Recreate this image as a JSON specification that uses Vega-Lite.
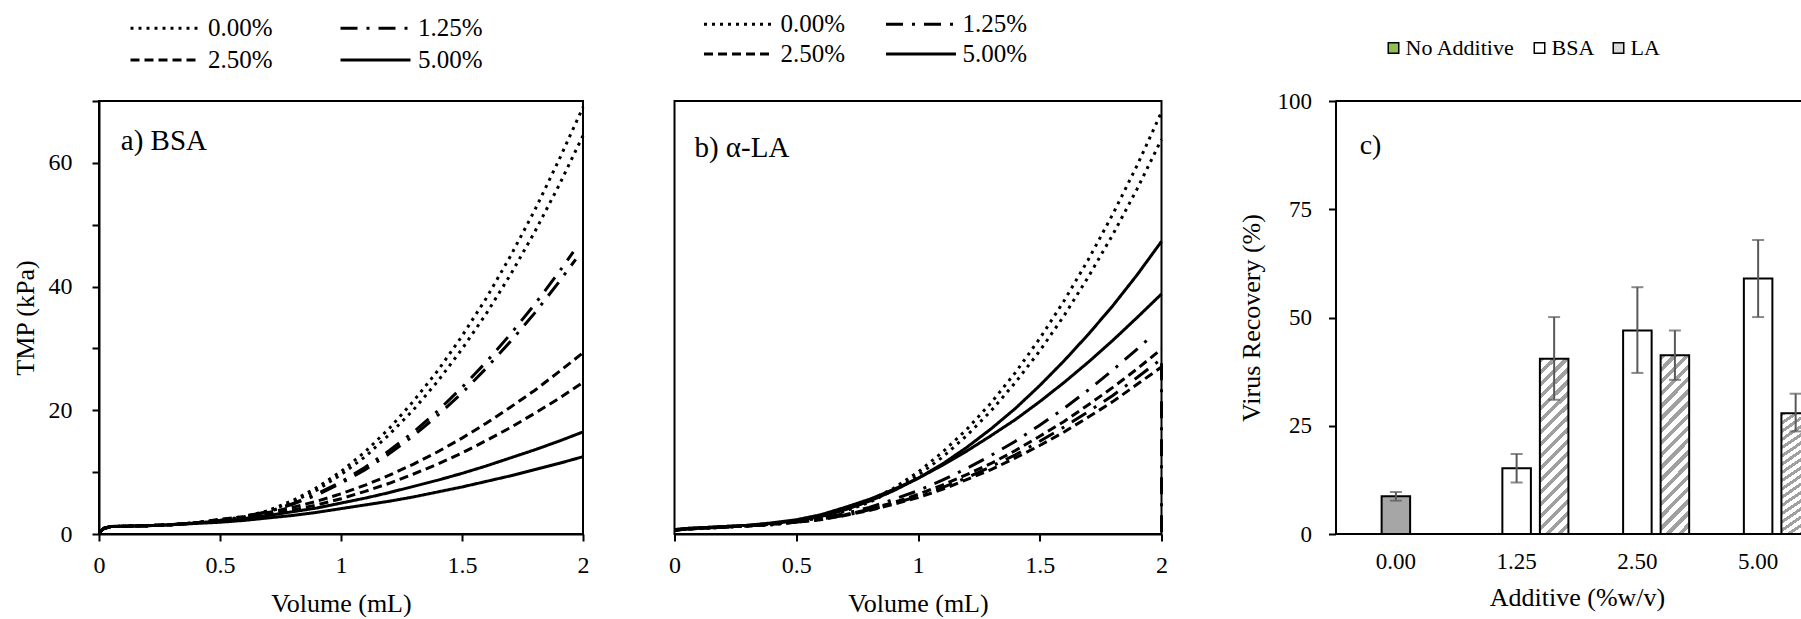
{
  "$schema": "https://vega.github.io/schema/vega-lite/v6.json",
  "padding": {"left": 11, "top": 10, "right": 0, "bottom": 0},
  "background": "white",
  "config": {
    "font": "Liberation Serif",
    "axis": {
      "domainColor": "black", "domainWidth": 2,
      "tickColor": "black", "tickWidth": 2, "tickSize": 7,
      "labelColor": "black", "titleColor": "black",
      "labelFont": "Liberation Serif", "titleFont": "Liberation Serif",
      "labelFontSize": 24, "titleFontSize": 26, "titleFontWeight": "normal",
      "grid": false
    },
    "legend": {"labelFont": "Liberation Serif", "labelColor": "black", "padding": 0},
    "text": {"font": "Liberation Serif"},
    "view": {"stroke": "black", "strokeWidth": 2}
  },
  "datasets": {
    "bsa": [
      {"c":"0.00%","r":1,"x":0,"y":0.2},{"c":"0.00%","r":1,"x":0.02,"y":0.9},{"c":"0.00%","r":1,"x":0.05,"y":1.2},{"c":"0.00%","r":1,"x":0.1,"y":1.25},{"c":"0.00%","r":1,"x":0.2,"y":1.35},{"c":"0.00%","r":1,"x":0.3,"y":1.5},{"c":"0.00%","r":1,"x":0.4,"y":1.8},
      {"c":"0.00%","r":1,"x":0.5,"y":2.2},{"c":"0.00%","r":1,"x":0.6,"y":2.8},{"c":"0.00%","r":1,"x":0.7,"y":3.8},{"c":"0.00%","r":1,"x":0.8,"y":5.4},{"c":"0.00%","r":1,"x":0.9,"y":7.5},{"c":"0.00%","r":1,"x":1.0,"y":10.1},{"c":"0.00%","r":1,"x":1.1,"y":13.3},{"c":"0.00%","r":1,"x":1.2,"y":17.1},{"c":"0.00%","r":1,"x":1.3,"y":21.5},{"c":"0.00%","r":1,"x":1.4,"y":26.4},{"c":"0.00%","r":1,"x":1.5,"y":32.0},{"c":"0.00%","r":1,"x":1.6,"y":38.1},{"c":"0.00%","r":1,"x":1.7,"y":44.9},{"c":"0.00%","r":1,"x":1.8,"y":52.3},{"c":"0.00%","r":1,"x":1.9,"y":60.4},{"c":"0.00%","r":1,"x":2.0,"y":69.0},
      {"c":"0.00%","r":2,"x":0,"y":0.2},{"c":"0.00%","r":2,"x":0.02,"y":0.9},{"c":"0.00%","r":2,"x":0.05,"y":1.2},{"c":"0.00%","r":2,"x":0.1,"y":1.25},{"c":"0.00%","r":2,"x":0.2,"y":1.35},{"c":"0.00%","r":2,"x":0.3,"y":1.5},{"c":"0.00%","r":2,"x":0.4,"y":1.8},
      {"c":"0.00%","r":2,"x":0.5,"y":2.2},{"c":"0.00%","r":2,"x":0.6,"y":2.7},{"c":"0.00%","r":2,"x":0.7,"y":3.7},{"c":"0.00%","r":2,"x":0.8,"y":5.2},{"c":"0.00%","r":2,"x":0.9,"y":7.1},{"c":"0.00%","r":2,"x":1.0,"y":9.6},{"c":"0.00%","r":2,"x":1.1,"y":12.5},{"c":"0.00%","r":2,"x":1.2,"y":16.1},{"c":"0.00%","r":2,"x":1.3,"y":20.1},{"c":"0.00%","r":2,"x":1.4,"y":24.7},{"c":"0.00%","r":2,"x":1.5,"y":29.9},{"c":"0.00%","r":2,"x":1.6,"y":35.6},{"c":"0.00%","r":2,"x":1.7,"y":41.9},{"c":"0.00%","r":2,"x":1.8,"y":48.8},{"c":"0.00%","r":2,"x":1.9,"y":56.3},{"c":"0.00%","r":2,"x":2.0,"y":64.4},
      {"c":"1.25%","r":1,"x":0,"y":0.2},{"c":"1.25%","r":1,"x":0.02,"y":0.9},{"c":"1.25%","r":1,"x":0.05,"y":1.2},{"c":"1.25%","r":1,"x":0.1,"y":1.25},{"c":"1.25%","r":1,"x":0.2,"y":1.35},{"c":"1.25%","r":1,"x":0.3,"y":1.5},{"c":"1.25%","r":1,"x":0.4,"y":1.8},
      {"c":"1.25%","r":1,"x":0.5,"y":2.2},{"c":"1.25%","r":1,"x":0.6,"y":2.9},{"c":"1.25%","r":1,"x":0.7,"y":3.6},{"c":"1.25%","r":1,"x":0.8,"y":4.9},{"c":"1.25%","r":1,"x":0.9,"y":6.5},{"c":"1.25%","r":1,"x":1.0,"y":8.4},{"c":"1.25%","r":1,"x":1.1,"y":10.8},{"c":"1.25%","r":1,"x":1.2,"y":13.5},{"c":"1.25%","r":1,"x":1.3,"y":16.5},{"c":"1.25%","r":1,"x":1.4,"y":19.9},{"c":"1.25%","r":1,"x":1.5,"y":23.7},{"c":"1.25%","r":1,"x":1.6,"y":27.8},{"c":"1.25%","r":1,"x":1.7,"y":32.3},{"c":"1.25%","r":1,"x":1.8,"y":37.1},{"c":"1.25%","r":1,"x":1.9,"y":42.3},{"c":"1.25%","r":1,"x":1.96,"y":45.6},
      {"c":"1.25%","r":2,"x":0,"y":0.2},{"c":"1.25%","r":2,"x":0.02,"y":0.9},{"c":"1.25%","r":2,"x":0.05,"y":1.2},{"c":"1.25%","r":2,"x":0.1,"y":1.25},{"c":"1.25%","r":2,"x":0.2,"y":1.35},{"c":"1.25%","r":2,"x":0.3,"y":1.5},{"c":"1.25%","r":2,"x":0.4,"y":1.8},
      {"c":"1.25%","r":2,"x":0.5,"y":2.2},{"c":"1.25%","r":2,"x":0.6,"y":2.7},{"c":"1.25%","r":2,"x":0.7,"y":3.6},{"c":"1.25%","r":2,"x":0.8,"y":4.8},{"c":"1.25%","r":2,"x":0.9,"y":6.3},{"c":"1.25%","r":2,"x":1.0,"y":8.2},{"c":"1.25%","r":2,"x":1.1,"y":10.4},{"c":"1.25%","r":2,"x":1.2,"y":13.0},{"c":"1.25%","r":2,"x":1.3,"y":15.9},{"c":"1.25%","r":2,"x":1.4,"y":19.2},{"c":"1.25%","r":2,"x":1.5,"y":22.8},{"c":"1.25%","r":2,"x":1.6,"y":26.8},{"c":"1.25%","r":2,"x":1.7,"y":31.1},{"c":"1.25%","r":2,"x":1.8,"y":35.7},{"c":"1.25%","r":2,"x":1.9,"y":40.7},{"c":"1.25%","r":2,"x":1.97,"y":44.4},
      {"c":"2.50%","r":1,"x":0,"y":0.2},{"c":"2.50%","r":1,"x":0.02,"y":0.9},{"c":"2.50%","r":1,"x":0.05,"y":1.2},{"c":"2.50%","r":1,"x":0.1,"y":1.25},{"c":"2.50%","r":1,"x":0.2,"y":1.35},{"c":"2.50%","r":1,"x":0.3,"y":1.5},{"c":"2.50%","r":1,"x":0.4,"y":1.8},
      {"c":"2.50%","r":1,"x":0.5,"y":2.4},{"c":"2.50%","r":1,"x":0.6,"y":2.8},{"c":"2.50%","r":1,"x":0.7,"y":3.5},{"c":"2.50%","r":1,"x":0.8,"y":4.3},{"c":"2.50%","r":1,"x":0.9,"y":5.3},{"c":"2.50%","r":1,"x":1.0,"y":6.5},{"c":"2.50%","r":1,"x":1.1,"y":7.9},{"c":"2.50%","r":1,"x":1.2,"y":9.5},{"c":"2.50%","r":1,"x":1.3,"y":11.3},{"c":"2.50%","r":1,"x":1.4,"y":13.3},{"c":"2.50%","r":1,"x":1.5,"y":15.5},{"c":"2.50%","r":1,"x":1.6,"y":17.9},{"c":"2.50%","r":1,"x":1.7,"y":20.5},{"c":"2.50%","r":1,"x":1.8,"y":23.2},{"c":"2.50%","r":1,"x":1.9,"y":26.2},{"c":"2.50%","r":1,"x":2.0,"y":29.3},
      {"c":"2.50%","r":2,"x":0,"y":0.2},{"c":"2.50%","r":2,"x":0.02,"y":0.9},{"c":"2.50%","r":2,"x":0.05,"y":1.2},{"c":"2.50%","r":2,"x":0.1,"y":1.25},{"c":"2.50%","r":2,"x":0.2,"y":1.35},{"c":"2.50%","r":2,"x":0.3,"y":1.5},{"c":"2.50%","r":2,"x":0.4,"y":1.8},
      {"c":"2.50%","r":2,"x":0.5,"y":2.3},{"c":"2.50%","r":2,"x":0.6,"y":2.7},{"c":"2.50%","r":2,"x":0.7,"y":3.2},{"c":"2.50%","r":2,"x":0.8,"y":3.9},{"c":"2.50%","r":2,"x":0.9,"y":4.7},{"c":"2.50%","r":2,"x":1.0,"y":5.7},{"c":"2.50%","r":2,"x":1.1,"y":6.9},{"c":"2.50%","r":2,"x":1.2,"y":8.2},{"c":"2.50%","r":2,"x":1.3,"y":9.7},{"c":"2.50%","r":2,"x":1.4,"y":11.3},{"c":"2.50%","r":2,"x":1.5,"y":13.1},{"c":"2.50%","r":2,"x":1.6,"y":15.1},{"c":"2.50%","r":2,"x":1.7,"y":17.2},{"c":"2.50%","r":2,"x":1.8,"y":19.5},{"c":"2.50%","r":2,"x":1.9,"y":21.9},{"c":"2.50%","r":2,"x":2.0,"y":24.5},
      {"c":"5.00%","r":1,"x":0,"y":0.2},{"c":"5.00%","r":1,"x":0.02,"y":0.9},{"c":"5.00%","r":1,"x":0.05,"y":1.2},{"c":"5.00%","r":1,"x":0.1,"y":1.25},{"c":"5.00%","r":1,"x":0.2,"y":1.35},{"c":"5.00%","r":1,"x":0.3,"y":1.5},{"c":"5.00%","r":1,"x":0.4,"y":1.8},
      {"c":"5.00%","r":1,"x":0.5,"y":2.1},{"c":"5.00%","r":1,"x":0.6,"y":2.5},{"c":"5.00%","r":1,"x":0.7,"y":3.0},{"c":"5.00%","r":1,"x":0.8,"y":3.6},{"c":"5.00%","r":1,"x":0.9,"y":4.2},{"c":"5.00%","r":1,"x":1.0,"y":5.0},{"c":"5.00%","r":1,"x":1.1,"y":5.8},{"c":"5.00%","r":1,"x":1.2,"y":6.7},{"c":"5.00%","r":1,"x":1.3,"y":7.7},{"c":"5.00%","r":1,"x":1.4,"y":8.7},{"c":"5.00%","r":1,"x":1.5,"y":9.8},{"c":"5.00%","r":1,"x":1.6,"y":11.0},{"c":"5.00%","r":1,"x":1.7,"y":12.3},{"c":"5.00%","r":1,"x":1.8,"y":13.6},{"c":"5.00%","r":1,"x":1.9,"y":15.0},{"c":"5.00%","r":1,"x":2.0,"y":16.5},
      {"c":"5.00%","r":2,"x":0,"y":0.2},{"c":"5.00%","r":2,"x":0.02,"y":0.9},{"c":"5.00%","r":2,"x":0.05,"y":1.2},{"c":"5.00%","r":2,"x":0.1,"y":1.25},{"c":"5.00%","r":2,"x":0.2,"y":1.35},{"c":"5.00%","r":2,"x":0.3,"y":1.5},{"c":"5.00%","r":2,"x":0.4,"y":1.7},
      {"c":"5.00%","r":2,"x":0.5,"y":1.9},{"c":"5.00%","r":2,"x":0.6,"y":2.2},{"c":"5.00%","r":2,"x":0.7,"y":2.6},{"c":"5.00%","r":2,"x":0.8,"y":3.0},{"c":"5.00%","r":2,"x":0.9,"y":3.5},{"c":"5.00%","r":2,"x":1.0,"y":4.1},{"c":"5.00%","r":2,"x":1.1,"y":4.7},{"c":"5.00%","r":2,"x":1.2,"y":5.3},{"c":"5.00%","r":2,"x":1.3,"y":6.0},{"c":"5.00%","r":2,"x":1.4,"y":6.8},{"c":"5.00%","r":2,"x":1.5,"y":7.6},{"c":"5.00%","r":2,"x":1.6,"y":8.5},{"c":"5.00%","r":2,"x":1.7,"y":9.4},{"c":"5.00%","r":2,"x":1.8,"y":10.4},{"c":"5.00%","r":2,"x":1.9,"y":11.4},{"c":"5.00%","r":2,"x":2.0,"y":12.5}
    ],
    "la": [
      {"c":"0.00%","r":1,"x":0,"y":0.6},{"c":"0.00%","r":1,"x":0.05,"y":0.8},{"c":"0.00%","r":1,"x":0.1,"y":0.9},{"c":"0.00%","r":1,"x":0.2,"y":1.1},{"c":"0.00%","r":1,"x":0.3,"y":1.3},{"c":"0.00%","r":1,"x":0.4,"y":1.5},
      {"c":"0.00%","r":1,"x":0.5,"y":2.0},{"c":"0.00%","r":1,"x":0.6,"y":2.7},{"c":"0.00%","r":1,"x":0.7,"y":3.8},{"c":"0.00%","r":1,"x":0.8,"y":5.4},{"c":"0.00%","r":1,"x":0.9,"y":7.4},{"c":"0.00%","r":1,"x":1.0,"y":10.0},{"c":"0.00%","r":1,"x":1.1,"y":13.2},{"c":"0.00%","r":1,"x":1.2,"y":16.9},{"c":"0.00%","r":1,"x":1.3,"y":21.2},{"c":"0.00%","r":1,"x":1.4,"y":26.1},{"c":"0.00%","r":1,"x":1.5,"y":31.6},{"c":"0.00%","r":1,"x":1.6,"y":37.7},{"c":"0.00%","r":1,"x":1.7,"y":44.4},{"c":"0.00%","r":1,"x":1.8,"y":51.7},{"c":"0.00%","r":1,"x":1.9,"y":59.6},{"c":"0.00%","r":1,"x":2.0,"y":68.2},
      {"c":"0.00%","r":2,"x":0,"y":0.6},{"c":"0.00%","r":2,"x":0.05,"y":0.8},{"c":"0.00%","r":2,"x":0.1,"y":0.9},{"c":"0.00%","r":2,"x":0.2,"y":1.1},{"c":"0.00%","r":2,"x":0.3,"y":1.3},{"c":"0.00%","r":2,"x":0.4,"y":1.5},
      {"c":"0.00%","r":2,"x":0.5,"y":2.0},{"c":"0.00%","r":2,"x":0.6,"y":2.6},{"c":"0.00%","r":2,"x":0.7,"y":3.7},{"c":"0.00%","r":2,"x":0.8,"y":5.1},{"c":"0.00%","r":2,"x":0.9,"y":7.1},{"c":"0.00%","r":2,"x":1.0,"y":9.5},{"c":"0.00%","r":2,"x":1.1,"y":12.4},{"c":"0.00%","r":2,"x":1.2,"y":15.9},{"c":"0.00%","r":2,"x":1.3,"y":19.9},{"c":"0.00%","r":2,"x":1.4,"y":24.5},{"c":"0.00%","r":2,"x":1.5,"y":29.6},{"c":"0.00%","r":2,"x":1.6,"y":35.3},{"c":"0.00%","r":2,"x":1.7,"y":41.6},{"c":"0.00%","r":2,"x":1.8,"y":48.4},{"c":"0.00%","r":2,"x":1.9,"y":55.8},{"c":"0.00%","r":2,"x":2.0,"y":63.8},
      {"c":"1.25%","r":1,"x":0,"y":0.6},{"c":"1.25%","r":1,"x":0.05,"y":0.8},{"c":"1.25%","r":1,"x":0.1,"y":0.9},{"c":"1.25%","r":1,"x":0.2,"y":1.1},{"c":"1.25%","r":1,"x":0.3,"y":1.3},{"c":"1.25%","r":1,"x":0.4,"y":1.6},
      {"c":"1.25%","r":1,"x":0.5,"y":2.0},{"c":"1.25%","r":1,"x":0.6,"y":2.5},{"c":"1.25%","r":1,"x":0.7,"y":3.3},{"c":"1.25%","r":1,"x":0.8,"y":4.3},{"c":"1.25%","r":1,"x":0.9,"y":5.6},{"c":"1.25%","r":1,"x":1.0,"y":7.0},{"c":"1.25%","r":1,"x":1.1,"y":8.7},{"c":"1.25%","r":1,"x":1.2,"y":10.6},{"c":"1.25%","r":1,"x":1.3,"y":12.7},{"c":"1.25%","r":1,"x":1.4,"y":15.0},{"c":"1.25%","r":1,"x":1.5,"y":17.6},{"c":"1.25%","r":1,"x":1.6,"y":20.3},{"c":"1.25%","r":1,"x":1.7,"y":23.3},{"c":"1.25%","r":1,"x":1.8,"y":26.5},{"c":"1.25%","r":1,"x":1.9,"y":29.9},{"c":"1.25%","r":1,"x":1.96,"y":32.0},
      {"c":"1.25%","r":2,"x":0,"y":0.6},{"c":"1.25%","r":2,"x":0.05,"y":0.8},{"c":"1.25%","r":2,"x":0.1,"y":0.9},{"c":"1.25%","r":2,"x":0.2,"y":1.1},{"c":"1.25%","r":2,"x":0.3,"y":1.3},{"c":"1.25%","r":2,"x":0.4,"y":1.6},
      {"c":"1.25%","r":2,"x":0.5,"y":1.9},{"c":"1.25%","r":2,"x":0.6,"y":2.4},{"c":"1.25%","r":2,"x":0.7,"y":3.0},{"c":"1.25%","r":2,"x":0.8,"y":3.9},{"c":"1.25%","r":2,"x":0.9,"y":4.9},{"c":"1.25%","r":2,"x":1.0,"y":6.1},{"c":"1.25%","r":2,"x":1.1,"y":7.5},{"c":"1.25%","r":2,"x":1.2,"y":9.1},{"c":"1.25%","r":2,"x":1.3,"y":10.9},{"c":"1.25%","r":2,"x":1.4,"y":12.8},{"c":"1.25%","r":2,"x":1.5,"y":15.0},{"c":"1.25%","r":2,"x":1.6,"y":17.3},{"c":"1.25%","r":2,"x":1.7,"y":19.8},{"c":"1.25%","r":2,"x":1.8,"y":22.4},{"c":"1.25%","r":2,"x":1.9,"y":25.3},{"c":"1.25%","r":2,"x":2.0,"y":28.3},{"c":"1.25%","r":2,"x":2.0,"y":0},
      {"c":"2.50%","r":1,"x":0,"y":0.6},{"c":"2.50%","r":1,"x":0.05,"y":0.8},{"c":"2.50%","r":1,"x":0.1,"y":0.9},{"c":"2.50%","r":1,"x":0.2,"y":1.1},{"c":"2.50%","r":1,"x":0.3,"y":1.3},{"c":"2.50%","r":1,"x":0.4,"y":1.6},
      {"c":"2.50%","r":1,"x":0.5,"y":1.9},{"c":"2.50%","r":1,"x":0.6,"y":2.4},{"c":"2.50%","r":1,"x":0.7,"y":3.1},{"c":"2.50%","r":1,"x":0.8,"y":4.0},{"c":"2.50%","r":1,"x":0.9,"y":5.1},{"c":"2.50%","r":1,"x":1.0,"y":6.4},{"c":"2.50%","r":1,"x":1.1,"y":7.9},{"c":"2.50%","r":1,"x":1.2,"y":9.6},{"c":"2.50%","r":1,"x":1.3,"y":11.4},{"c":"2.50%","r":1,"x":1.4,"y":13.5},{"c":"2.50%","r":1,"x":1.5,"y":15.8},{"c":"2.50%","r":1,"x":1.6,"y":18.2},{"c":"2.50%","r":1,"x":1.7,"y":20.9},{"c":"2.50%","r":1,"x":1.8,"y":23.7},{"c":"2.50%","r":1,"x":1.9,"y":26.7},{"c":"2.50%","r":1,"x":2.0,"y":29.9},
      {"c":"2.50%","r":2,"x":0,"y":0.6},{"c":"2.50%","r":2,"x":0.05,"y":0.8},{"c":"2.50%","r":2,"x":0.1,"y":0.9},{"c":"2.50%","r":2,"x":0.2,"y":1.1},{"c":"2.50%","r":2,"x":0.3,"y":1.3},{"c":"2.50%","r":2,"x":0.4,"y":1.6},
      {"c":"2.50%","r":2,"x":0.5,"y":1.9},{"c":"2.50%","r":2,"x":0.6,"y":2.3},{"c":"2.50%","r":2,"x":0.7,"y":3.0},{"c":"2.50%","r":2,"x":0.8,"y":3.8},{"c":"2.50%","r":2,"x":0.9,"y":4.8},{"c":"2.50%","r":2,"x":1.0,"y":5.9},{"c":"2.50%","r":2,"x":1.1,"y":7.2},{"c":"2.50%","r":2,"x":1.2,"y":8.8},{"c":"2.50%","r":2,"x":1.3,"y":10.4},{"c":"2.50%","r":2,"x":1.4,"y":12.3},{"c":"2.50%","r":2,"x":1.5,"y":14.3},{"c":"2.50%","r":2,"x":1.6,"y":16.5},{"c":"2.50%","r":2,"x":1.7,"y":18.9},{"c":"2.50%","r":2,"x":1.8,"y":21.4},{"c":"2.50%","r":2,"x":1.9,"y":24.2},{"c":"2.50%","r":2,"x":2.0,"y":27.0},
      {"c":"5.00%","r":1,"x":0,"y":0.7},{"c":"5.00%","r":1,"x":0.05,"y":0.9},{"c":"5.00%","r":1,"x":0.1,"y":1.0},{"c":"5.00%","r":1,"x":0.2,"y":1.2},{"c":"5.00%","r":1,"x":0.3,"y":1.4},{"c":"5.00%","r":1,"x":0.4,"y":1.7},
      {"c":"5.00%","r":1,"x":0.5,"y":2.1},{"c":"5.00%","r":1,"x":0.6,"y":2.8},{"c":"5.00%","r":1,"x":0.7,"y":3.9},{"c":"5.00%","r":1,"x":0.8,"y":5.3},{"c":"5.00%","r":1,"x":0.9,"y":7.0},{"c":"5.00%","r":1,"x":1.0,"y":9.0},{"c":"5.00%","r":1,"x":1.1,"y":11.3},{"c":"5.00%","r":1,"x":1.2,"y":14.0},{"c":"5.00%","r":1,"x":1.3,"y":17.0},{"c":"5.00%","r":1,"x":1.4,"y":20.3},{"c":"5.00%","r":1,"x":1.5,"y":24.0},{"c":"5.00%","r":1,"x":1.6,"y":28.0},{"c":"5.00%","r":1,"x":1.7,"y":32.3},{"c":"5.00%","r":1,"x":1.8,"y":36.9},{"c":"5.00%","r":1,"x":1.9,"y":41.9},{"c":"5.00%","r":1,"x":2.0,"y":47.3},
      {"c":"5.00%","r":2,"x":0,"y":0.7},{"c":"5.00%","r":2,"x":0.05,"y":0.9},{"c":"5.00%","r":2,"x":0.1,"y":1.0},{"c":"5.00%","r":2,"x":0.2,"y":1.2},{"c":"5.00%","r":2,"x":0.3,"y":1.4},{"c":"5.00%","r":2,"x":0.4,"y":1.8},
      {"c":"5.00%","r":2,"x":0.5,"y":2.3},{"c":"5.00%","r":2,"x":0.6,"y":3.1},{"c":"5.00%","r":2,"x":0.7,"y":4.3},{"c":"5.00%","r":2,"x":0.8,"y":5.6},{"c":"5.00%","r":2,"x":0.9,"y":7.2},{"c":"5.00%","r":2,"x":1.0,"y":9.0},{"c":"5.00%","r":2,"x":1.1,"y":11.1},{"c":"5.00%","r":2,"x":1.2,"y":13.4},{"c":"5.00%","r":2,"x":1.3,"y":15.9},{"c":"5.00%","r":2,"x":1.4,"y":18.5},{"c":"5.00%","r":2,"x":1.5,"y":21.4},{"c":"5.00%","r":2,"x":1.6,"y":24.5},{"c":"5.00%","r":2,"x":1.7,"y":27.8},{"c":"5.00%","r":2,"x":1.8,"y":31.3},{"c":"5.00%","r":2,"x":1.9,"y":35.0},{"c":"5.00%","r":2,"x":2.0,"y":38.8}
    ],
    "rec": [
      {"additive":"0.00","series":"No Additive","value":8.7,"lo":7.7,"hi":9.7},
      {"additive":"1.25","series":"BSA","value":15.2,"lo":11.9,"hi":18.5},
      {"additive":"1.25","series":"LA","value":40.5,"lo":31.0,"hi":50.1},
      {"additive":"2.50","series":"BSA","value":47.0,"lo":37.2,"hi":57.0},
      {"additive":"2.50","series":"LA","value":41.3,"lo":35.6,"hi":47.0},
      {"additive":"5.00","series":"BSA","value":59.0,"lo":50.1,"hi":67.9},
      {"additive":"5.00","series":"LA","value":27.9,"lo":23.7,"hi":32.4}
    ]
  },
  "spacing": 68.5,
  "resolve": {
    "scale": {"x": "independent", "y": "independent", "strokeDash": "independent", "fill": "independent"},
    "legend": {"strokeDash": "independent", "fill": "independent"}
  },
  "hconcat": [
    {
      "spacing": 77.5,
      "resolve": {
        "scale": {"x": "independent", "y": "independent", "strokeDash": "independent"},
        "legend": {"strokeDash": "independent"}
      },
      "hconcat": [
        {
          "width": 484,
          "height": 433,
          "layer": [
            {
              "data": {"name": "bsa"},
              "mark": {"type": "line", "strokeWidth": 3, "color": "black"},
              "encoding": {
                "x": {"field": "x", "type": "quantitative",
                      "scale": {"domain": [0, 2], "nice": false},
                      "axis": {"values": [0, 0.5, 1, 1.5, 2], "format": "~g", "labelFlush": false, "title": "Volume (mL)", "labelPadding": 12, "titlePadding": 13}},
                "y": {"field": "y", "type": "quantitative",
                      "scale": {"domain": [0, 70], "nice": false},
                      "axis": {"values": [0, 10, 20, 30, 40, 50, 60, 70], "labelExpr": "datum.value % 20 === 0 ? datum.label : ''", "labelFlush": false, "title": "TMP (kPa)", "labelPadding": 20, "titlePadding": 10}},
                "strokeDash": {"field": "c", "type": "nominal",
                      "scale": {"domain": ["0.00%", "1.25%", "2.50%", "5.00%"], "range": [[3, 5], [17, 9, 3, 9], [9, 5], [1, 0]]},
                      "legend": {"title": null, "orient": "none", "legendX": 30, "legendY": -85.5, "direction": "horizontal", "columns": 2,
                                 "symbolType": "stroke", "symbolSize": 4900, "symbolStrokeWidth": 3, "symbolStrokeColor": "black", "clipHeight": 25,
                                 "labelFont": "Liberation Serif", "labelFontSize": 25, "labelOffset": 6, "columnPadding": 66, "rowPadding": 6}},
                "detail": {"field": "r"}
              }
            },
            {
              "data": {"values": [{"label": "a) BSA", "x": 0.09, "y": 62}]},
              "mark": {"type": "text", "align": "left", "baseline": "alphabetic", "fontSize": 29, "font": "Liberation Serif", "color": "black"},
              "encoding": {
                "x": {"field": "x", "type": "quantitative"},
                "y": {"field": "y", "type": "quantitative"},
                "text": {"field": "label"}
              }
            }
          ]
        },
        {
          "width": 487,
          "height": 433,
          "layer": [
            {
              "data": {"name": "la"},
              "mark": {"type": "line", "strokeWidth": 3, "color": "black"},
              "encoding": {
                "x": {"field": "x", "type": "quantitative",
                      "scale": {"domain": [0, 2], "nice": false},
                      "axis": {"values": [0, 0.5, 1, 1.5, 2], "format": "~g", "labelFlush": false, "title": "Volume (mL)", "labelPadding": 12, "titlePadding": 13}},
                "y": {"field": "y", "type": "quantitative",
                      "scale": {"domain": [0, 70], "nice": false},
                      "axis": null},
                "strokeDash": {"field": "c", "type": "nominal",
                      "scale": {"domain": ["0.00%", "1.25%", "2.50%", "5.00%"], "range": [[3, 5], [17, 9, 3, 9], [9, 5], [1, 0]]},
                      "legend": {"title": null, "orient": "none", "legendX": 28, "legendY": -89.5, "direction": "horizontal", "columns": 2,
                                 "symbolType": "stroke", "symbolSize": 4900, "symbolStrokeWidth": 3, "symbolStrokeColor": "black", "clipHeight": 25,
                                 "labelFont": "Liberation Serif", "labelFontSize": 25, "labelOffset": 5, "columnPadding": 39, "rowPadding": 4}},
                "detail": {"field": "r"}
              }
            },
            {
              "data": {"values": [{"label": "b) α-LA", "x": 0.082, "y": 61}]},
              "mark": {"type": "text", "align": "left", "baseline": "alphabetic", "fontSize": 29, "font": "Liberation Serif", "color": "black"},
              "encoding": {
                "x": {"field": "x", "type": "quantitative"},
                "y": {"field": "y", "type": "quantitative"},
                "text": {"field": "label"}
              }
            }
          ]
        }
      ]
    },
    {
      "width": 469,
      "height": 433,
      "view": {"stroke": null},
      "data": {"name": "rec"},
      "encoding": {
        "x": {"field": "additive", "type": "nominal",
              "scale": {"domain": ["0.00", "1.25", "2.50", "5.00"], "range": [0, 483], "paddingInner": 0, "paddingOuter": 0},
              "axis": {"title": "Additive (%w/v)", "labelAngle": 0, "domain": false, "ticks": false, "labelPadding": 16, "labelFontSize": 23, "titlePadding": 11.5}}
      },
      "layer": [
        {
          "data": {"values": [{"edge": 100}, {"edge": 0}]},
          "mark": {"type": "rule", "color": "black", "strokeWidth": 2},
          "encoding": {
            "x": null,
            "y": {"field": "edge", "type": "quantitative", "scale": {"domain": [0, 100], "nice": false}}
          }
        },
        {
          "transform": [{"filter": "datum.series !== 'No Additive'"}],
          "mark": {"type": "bar", "stroke": "black", "strokeWidth": 2, "clip": true},
          "encoding": {
            "xOffset": {"field": "series", "type": "nominal",
                        "scale": {"domain": ["No Additive", "BSA", "LA"], "paddingInner": 0.24, "paddingOuter": 0.229}},
            "y": {"field": "value", "type": "quantitative",
                  "scale": {"domain": [0, 100], "nice": false},
                  "axis": {"values": [0, 25, 50, 75, 100], "title": "Virus Recovery (%)", "labelFontSize": 23, "labelPadding": 17, "titlePadding": 13}},
            "fill": {"field": "series", "type": "nominal",
                     "scale": {"domain": ["No Additive", "BSA", "LA"], "range": ["#92c050", "#ffffff", "#d9d9d9"]},
                     "condition": [
                       {"test": "datum.series === 'No Additive'", "value": "#a6a6a6"},
                       {"test": "datum.series === 'LA'", "value": {
                         "gradient": "linear", "x1": 0, "y1": 0, "x2": 0.1822, "y2": 1.1317,
                         "stops": [
                           {"offset": 0, "color": "#a0a0a0"}, {"offset": 0.0265, "color": "#a0a0a0"}, {"offset": 0.0265, "color": "#ffffff"}, {"offset": 0.0588, "color": "#ffffff"},
                           {"offset": 0.0588, "color": "#a0a0a0"}, {"offset": 0.0853, "color": "#a0a0a0"}, {"offset": 0.0853, "color": "#ffffff"}, {"offset": 0.1176, "color": "#ffffff"},
                           {"offset": 0.1176, "color": "#a0a0a0"}, {"offset": 0.1441, "color": "#a0a0a0"}, {"offset": 0.1441, "color": "#ffffff"}, {"offset": 0.1765, "color": "#ffffff"},
                           {"offset": 0.1765, "color": "#a0a0a0"}, {"offset": 0.2029, "color": "#a0a0a0"}, {"offset": 0.2029, "color": "#ffffff"}, {"offset": 0.2353, "color": "#ffffff"},
                           {"offset": 0.2353, "color": "#a0a0a0"}, {"offset": 0.2618, "color": "#a0a0a0"}, {"offset": 0.2618, "color": "#ffffff"}, {"offset": 0.2941, "color": "#ffffff"},
                           {"offset": 0.2941, "color": "#a0a0a0"}, {"offset": 0.3206, "color": "#a0a0a0"}, {"offset": 0.3206, "color": "#ffffff"}, {"offset": 0.3529, "color": "#ffffff"},
                           {"offset": 0.3529, "color": "#a0a0a0"}, {"offset": 0.3794, "color": "#a0a0a0"}, {"offset": 0.3794, "color": "#ffffff"}, {"offset": 0.4118, "color": "#ffffff"},
                           {"offset": 0.4118, "color": "#a0a0a0"}, {"offset": 0.4382, "color": "#a0a0a0"}, {"offset": 0.4382, "color": "#ffffff"}, {"offset": 0.4706, "color": "#ffffff"},
                           {"offset": 0.4706, "color": "#a0a0a0"}, {"offset": 0.4971, "color": "#a0a0a0"}, {"offset": 0.4971, "color": "#ffffff"}, {"offset": 0.5294, "color": "#ffffff"},
                           {"offset": 0.5294, "color": "#a0a0a0"}, {"offset": 0.5559, "color": "#a0a0a0"}, {"offset": 0.5559, "color": "#ffffff"}, {"offset": 0.5882, "color": "#ffffff"},
                           {"offset": 0.5882, "color": "#a0a0a0"}, {"offset": 0.6147, "color": "#a0a0a0"}, {"offset": 0.6147, "color": "#ffffff"}, {"offset": 0.6471, "color": "#ffffff"},
                           {"offset": 0.6471, "color": "#a0a0a0"}, {"offset": 0.6735, "color": "#a0a0a0"}, {"offset": 0.6735, "color": "#ffffff"}, {"offset": 0.7059, "color": "#ffffff"},
                           {"offset": 0.7059, "color": "#a0a0a0"}, {"offset": 0.7324, "color": "#a0a0a0"}, {"offset": 0.7324, "color": "#ffffff"}, {"offset": 0.7647, "color": "#ffffff"},
                           {"offset": 0.7647, "color": "#a0a0a0"}, {"offset": 0.7912, "color": "#a0a0a0"}, {"offset": 0.7912, "color": "#ffffff"}, {"offset": 0.8235, "color": "#ffffff"},
                           {"offset": 0.8235, "color": "#a0a0a0"}, {"offset": 0.85, "color": "#a0a0a0"}, {"offset": 0.85, "color": "#ffffff"}, {"offset": 0.8824, "color": "#ffffff"},
                           {"offset": 0.8824, "color": "#a0a0a0"}, {"offset": 0.9088, "color": "#a0a0a0"}, {"offset": 0.9088, "color": "#ffffff"}, {"offset": 0.9412, "color": "#ffffff"},
                           {"offset": 0.9412, "color": "#a0a0a0"}, {"offset": 0.9676, "color": "#a0a0a0"}, {"offset": 0.9676, "color": "#ffffff"}, {"offset": 1, "color": "#ffffff"}
                         ]}}
                     ],
                     "legend": {"title": null, "orient": "none", "legendX": 47, "legendY": -64, "direction": "horizontal",
                                "symbolType": "square", "symbolSize": 110, "symbolStrokeColor": "black", "symbolStrokeWidth": 1.5, "symbolOpacity": 1,
                                "labelFont": "Liberation Serif", "labelFontSize": 22, "labelOffset": 1, "columnPadding": 13}}
          }
        },
        {
          "transform": [{"filter": "datum.series === 'No Additive'"}],
          "mark": {"type": "bar", "stroke": "black", "strokeWidth": 2, "width": {"band": 0.236}},
          "encoding": {
            "y": {"field": "value", "type": "quantitative", "scale": {"domain": [0, 100], "nice": false}},
            "fill": {"field": "series", "type": "nominal",
                     "scale": {"domain": ["No Additive", "BSA", "LA"], "range": ["#92c050", "#ffffff", "#d9d9d9"]},
                     "condition": [{"test": "datum.series === 'No Additive'", "value": "#a6a6a6"}]}
          }
        },
        {
          "transform": [{"filter": "datum.series !== 'No Additive'"}],
          "mark": {"type": "rule", "color": "#595959", "strokeWidth": 2, "clip": true},
          "encoding": {
            "xOffset": {"field": "series", "type": "nominal"},
            "y": {"field": "lo", "type": "quantitative", "scale": {"domain": [0, 100], "nice": false}},
            "y2": {"field": "hi"}
          }
        },
        {
          "transform": [{"filter": "datum.series !== 'No Additive'"}],
          "mark": {"type": "tick", "color": "#595959", "thickness": 2, "size": 12, "clip": true},
          "encoding": {
            "xOffset": {"field": "series", "type": "nominal"},
            "y": {"field": "hi", "type": "quantitative", "scale": {"domain": [0, 100], "nice": false}}
          }
        },
        {
          "transform": [{"filter": "datum.series !== 'No Additive'"}],
          "mark": {"type": "tick", "color": "#595959", "thickness": 2, "size": 12, "clip": true},
          "encoding": {
            "xOffset": {"field": "series", "type": "nominal"},
            "y": {"field": "lo", "type": "quantitative", "scale": {"domain": [0, 100], "nice": false}}
          }
        },
        {
          "transform": [{"filter": "datum.series === 'No Additive'"}],
          "mark": {"type": "rule", "color": "#595959", "strokeWidth": 2},
          "encoding": {
            "y": {"field": "lo", "type": "quantitative", "scale": {"domain": [0, 100], "nice": false}},
            "y2": {"field": "hi"}
          }
        },
        {
          "transform": [{"filter": "datum.series === 'No Additive'"}],
          "mark": {"type": "tick", "color": "#595959", "thickness": 2, "size": 12},
          "encoding": {
            "y": {"field": "hi", "type": "quantitative", "scale": {"domain": [0, 100], "nice": false}}
          }
        },
        {
          "transform": [{"filter": "datum.series === 'No Additive'"}],
          "mark": {"type": "tick", "color": "#595959", "thickness": 2, "size": 12},
          "encoding": {
            "y": {"field": "lo", "type": "quantitative", "scale": {"domain": [0, 100], "nice": false}}
          }
        },
        {
          "data": {"values": [{"label": "c)", "additive": "0.00", "v": 87.7}]},
          "mark": {"type": "text", "align": "left", "baseline": "alphabetic", "fontSize": 28, "font": "Liberation Serif", "color": "black"},
          "encoding": {
            "x": {"field": "additive", "type": "nominal", "bandPosition": 0.2},
            "y": {"field": "v", "type": "quantitative", "scale": {"domain": [0, 100], "nice": false}},
            "text": {"field": "label"}
          }
        }
      ]
    }
  ]
}
